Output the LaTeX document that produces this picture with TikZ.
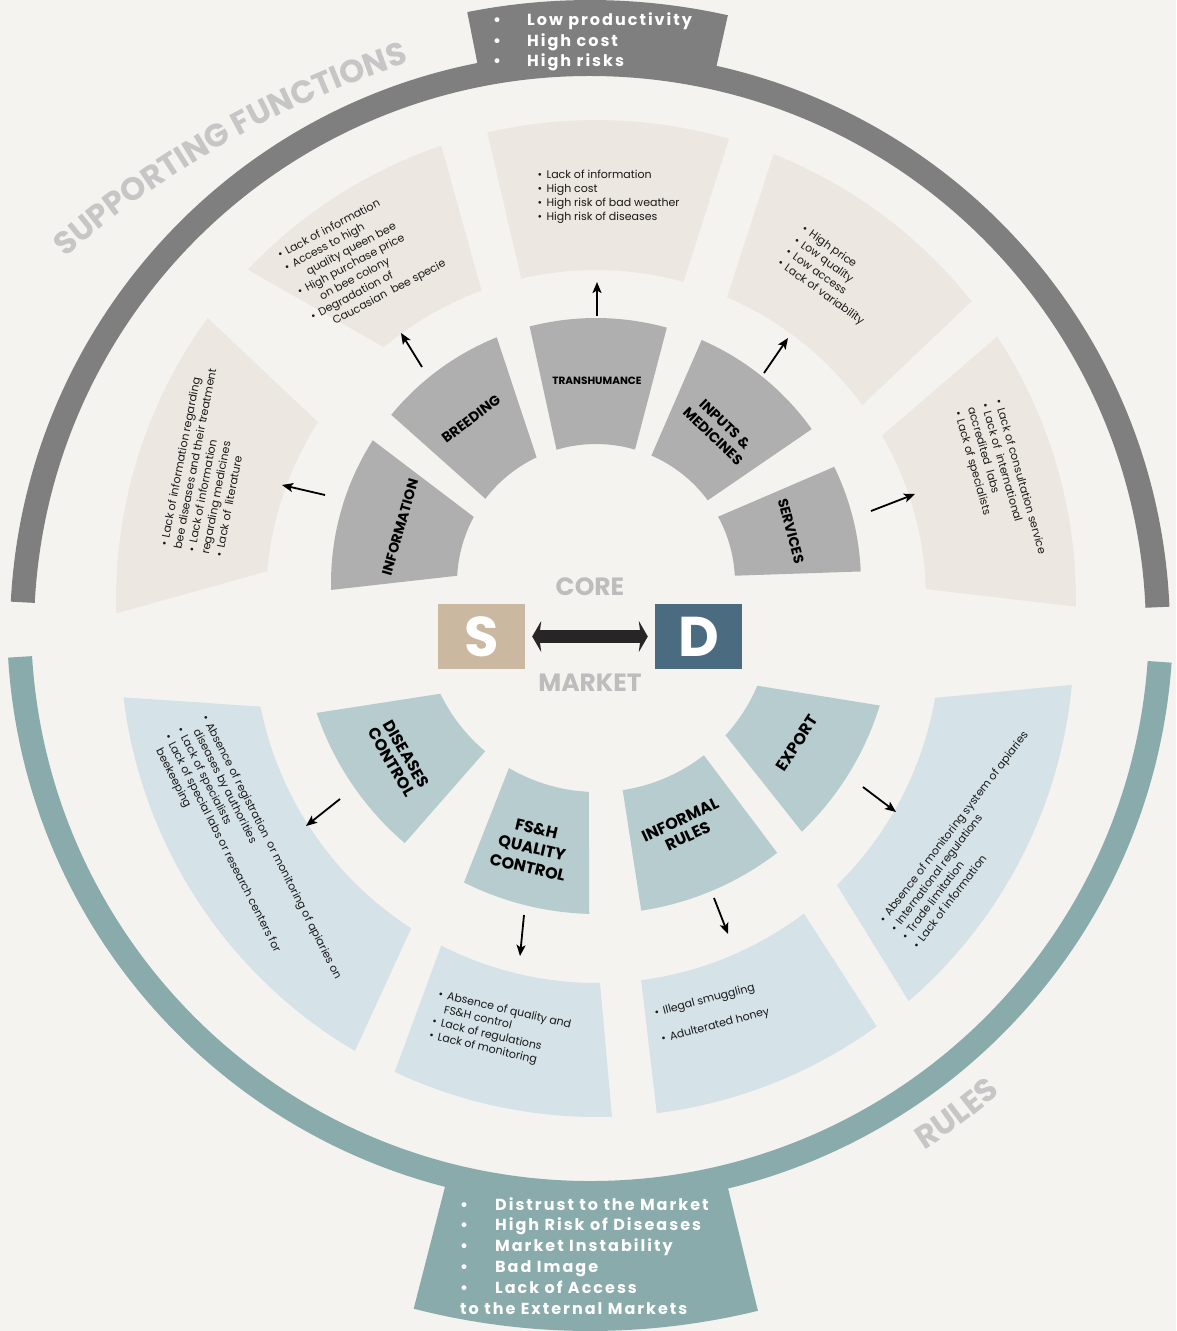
\documentclass[tikz,border=0pt]{standalone}
\usepackage{fontspec}
\setmainfont{Poppins}
\newfontfamily\tabfont[LetterSpace=12.5]{Poppins}
\usetikzlibrary{arrows.meta,decorations.text}
\definecolor{bgc}{HTML}{F4F3EF}
\definecolor{bandgray}{HTML}{7F7F7F}
\definecolor{secgray}{HTML}{AFAFAF}
\definecolor{beige}{HTML}{EDE7E1}
\definecolor{bandteal}{HTML}{8AABAB}
\definecolor{secteal}{HTML}{B6CCCE}
\definecolor{secblue}{HTML}{D5E2E7}
\definecolor{scol}{HTML}{CBB8A0}
\definecolor{dcol}{HTML}{4A6B80}
\definecolor{ltgray}{HTML}{C6C6C6}
\definecolor{coregray}{HTML}{BDBDBD}
\definecolor{arrdark}{HTML}{262626}
\newcommand\mybul{\makebox[0.8em][l]{\textbullet}}
% #1 cx, #2 cy (image), #3 r inner, #4 r outer, #5 #6 outer angles, #7 #8 inner angles, #9 colour
\newcommand\mysect[9]{\fill[#9, shift={(#1,-#2)}] (#5:#4) arc[start angle=#5, end angle=#6, radius=#4] -- (#8:#3) arc[start angle=#8, end angle=#7, radius=#3] -- cycle;}
\tikzset{
 arr/.style={draw=black, line width=1.8pt, -{Stealth[length=11pt,width=9pt,inset=2.5pt]}},
 body/.style={anchor=base west, inner sep=0pt, font=\fontsize{11}{14}\selectfont, text=black!90},
 lab/.style={inner sep=0pt, align=center, font=\bfseries\fontsize{14}{17}\selectfont, text=black},
 blab/.style={inner sep=0pt, align=center, font=\bfseries\fontsize{16}{19}\selectfont, text=black},
 tabtxt/.style={anchor=base west, inner sep=0pt, text=white, font=\tabfont\bfseries\fontsize{16}{20}\selectfont},
 bigtxt/.style={inner sep=0pt, text=coregray, font=\bfseries\fontsize{25}{25}\selectfont},
 sdbox/.style={minimum width=87pt, minimum height=65pt, inner sep=0pt, text=white, font=\bfseries\fontsize{56}{56}\selectfont},
}
\begin{document}
\begin{tikzpicture}[x=1pt,y=1pt]
\useasboundingbox (0,0) rectangle (1176,-1331);
\fill[bgc] (0,0) rectangle (1176,-1331);

% ---- outer bands and tabs
\fill[bandgray, shift={(590,-632)}] (2.5:580) arc[start angle=2.5,end angle=177,radius=580] -- (177:556) arc[start angle=177,end angle=2.5,radius=556] -- cycle;
\fill[bandgray, shift={(590,-632)}] (77.4:632) arc[start angle=77.4,end angle=101.2,radius=632] -- (101.2:560) arc[start angle=101.2,end angle=77.4,radius=560] -- cycle;
\fill[bandteal, shift={(590,-622)}] (183.5:583) arc[start angle=183.5,end angle=356,radius=583] -- (356:559) arc[start angle=356,end angle=183.5,radius=559] -- cycle;
\fill[bandteal, shift={(590,-622)}] (255.6:709) arc[start angle=255.6,end angle=283.7,radius=709] -- (283.7:570) arc[start angle=283.7,end angle=255.6,radius=570] -- cycle;

% ---- curved titles
\path[shift={(712,-999)}, decorate, decoration={text along path, text align=center, text color=ltgray, text={|\bfseries\fontsize{32}{32}\selectfont|SUPPORTING FUNCTIONS}}] (133:984) arc[start angle=133, end angle=106, radius=984];
\path[shift={(590,-622)}, decorate, decoration={text along path, text align=center, text color=ltgray, text={|\bfseries\fontsize{32}{32}\selectfont|RULES}}] (-64:625) arc[start angle=-64, end angle=-42.6, radius=625];

% ---- top inner gray sectors (centre 596,583)
\mysect{596}{583}{139}{265}{2.5}{26}{3}{28.5}{secgray}
\mysect{596}{583}{139}{265}{35.5}{66.5}{36.5}{66.5}{secgray}
\mysect{596}{583}{139}{265}{74.5}{104.5}{73.7}{106.5}{secgray}
\mysect{596}{583}{139}{265}{112}{140.6}{115.3}{142.7}{secgray}
\mysect{596}{583}{139}{265}{147.4}{181.5}{151.6}{177}{secgray}
% ---- top outer beige sectors (centre 596,600)
\mysect{596}{600}{330}{480}{-0.8}{33.3}{1.9}{29.9}{beige}
\mysect{596}{600}{330}{480}{38.5}{68.3}{36.2}{66.6}{beige}
\mysect{596}{600}{330}{480}{73.9}{103.1}{74.6}{103.1}{beige}
\mysect{596}{600}{330}{480}{108.8}{136.5}{110.3}{130}{beige}
\mysect{596}{600}{330}{480}{144}{181.6}{147.4}{175}{beige}
% ---- bottom inner teal sectors (centre 597,618)
\mysect{597}{618}{174}{296}{198.7}{229.5}{205.8}{230}{secteal}
\mysect{597}{618}{174}{296}{243.3}{268.5}{239.6}{267.3}{secteal}
\mysect{597}{618}{174}{296}{278.6}{307.5}{278.5}{307.9}{secteal}
\mysect{597}{618}{174}{296}{313.8}{342.8}{317.6}{337.1}{secteal}
% ---- bottom outer blue sectors (centre 597,640)
\mysect{597}{640}{343}{477}{186.9}{239.5}{191.2}{237.2}{secblue}
\mysect{597}{640}{343}{477}{244.9}{271.8}{243}{270.5}{secblue}
\mysect{597}{640}{343}{477}{277.2}{305.9}{277.4}{307.1}{secblue}
\mysect{597}{640}{343}{477}{310.8}{354.6}{314.4}{350.3}{secblue}

% ---- tab texts
\node[tabtxt] (tt1) at (493,-25.5) {\makebox[34pt][l]{\textbullet}Low productivity};
\node[tabtxt] (tt2) at (493,-46) {\makebox[34pt][l]{\textbullet}High cost};
\node[tabtxt] (tt3) at (493,-66.5) {\makebox[34pt][l]{\textbullet}High risks};
\node[tabtxt] (bt1) at (460,-1210) {\makebox[35pt][l]{\textbullet}Distrust to the Market};
\node[tabtxt] (bt2) at (460,-1230.8) {\makebox[35pt][l]{\textbullet}High Risk of Diseases};
\node[tabtxt] (bt3) at (460,-1251.6) {\makebox[35pt][l]{\textbullet}Market Instability};
\node[tabtxt] (bt4) at (460,-1272.4) {\makebox[35pt][l]{\textbullet}Bad Image};
\node[tabtxt] (bt5) at (460,-1293.2) {\makebox[35pt][l]{\textbullet}Lack of Access};
\node[tabtxt] (bt6) at (460,-1314) {to the External Markets};

% ---- core
\node[bigtxt] (core) at (590,-587) {CORE};
\node[bigtxt] (market) at (590,-683) {MARKET};
\node[sdbox, fill=scol] (S) at (481.5,-636.5) {S};
\node[sdbox, fill=dcol] (D) at (698.5,-636.5) {D};
\draw[draw=arrdark, line width=13pt, {Stealth[length=9pt,width=31pt,inset=2pt]}-{Stealth[length=9pt,width=31pt,inset=2pt]}, shorten <=7pt, shorten >=7pt] (S) -- (D);

% ---- gray labels
\node[lab, rotate=74] (linfo) at (400,-527) {INFORMATION};
\node[lab, rotate=37] (lbreed) at (471,-419) {BREEDING};
\node[lab, font=\bfseries\fontsize{10.5}{12}\selectfont] (ltrans) at (597,-381) {TRANSHUMANCE};
\node[lab, rotate=-44] (linput) at (719,-430) {INPUTS \&\\MEDICINES};
\node[lab, rotate=-75] (lserv) at (791,-531) {SERVICES};
% ---- teal labels
\node[blab, rotate=-60, font=\bfseries\fontsize{16}{17}\selectfont] (ldis) at (399,-758) {DISEASES\\CONTROL};
\node[blab, rotate=-13, font=\bfseries\fontsize{16}{20}\selectfont] (lfsh) at (532,-848) {FS\&H\\QUALITY\\CONTROL};
\node[blab, rotate=25, font=\bfseries\fontsize{16}{18}\selectfont] (linf) at (684,-828) {INFORMAL\\RULES};
\node[blab, rotate=57] (lexp) at (797,-743) {EXPORT};

% ---- text blocks
\begin{scope}[shift={(167.6,-547)}, rotate=79, transform shape]
\node[body] (i1) at (0,0) {\mybul Lack of information regarding};
\node[body] (i2) at (0,-14) {bee diseases and their treatment};
\node[body] (i3) at (0,-28) {\mybul Lack of information};
\node[body] (i4) at (0,-42) {regarding medicines};
\node[body] (i5) at (0,-56) {\mybul Lack of\ \ literature};
\end{scope}
\begin{scope}[shift={(280,-259)}, rotate=28, transform shape]
\node[body] (b1) at (0,0) {\mybul Lack of information};
\node[body] (b2) at (0,-14) {\mybul Access to high};
\node[body] (b3) at (0,-28) {\hspace*{1.6em}quality queen bee};
\node[body] (b4) at (0,-42) {\mybul High purchase price};
\node[body] (b5) at (0,-56) {\hspace*{1.6em}on bee colony};
\node[body] (b6) at (0,-70) {\mybul Degradation of};
\node[body] (b7) at (0,-84) {\hspace*{1.6em}Caucasian\ \ bee specie};
\end{scope}
\begin{scope}[shift={(537.5,-178)}]
\node[body] (r1) at (0,0) {\mybul Lack of information};
\node[body] (r2) at (0,-14) {\mybul High cost};
\node[body] (r3) at (0,-28) {\mybul High risk of bad weather};
\node[body] (r4) at (0,-42) {\mybul High risk of diseases};
\end{scope}
\begin{scope}[shift={(801,-230.5)}, rotate=-35.5, transform shape]
\node[body] (p1) at (0,0) {\mybul High price};
\node[body] (p2) at (0,-14) {\mybul Low quality};
\node[body] (p3) at (0,-28) {\mybul Low access};
\node[body] (p4) at (0,-42) {\mybul Lack of variability};
\end{scope}
\begin{scope}[shift={(994.7,-400.4)}, rotate=-74, transform shape]
\node[body] (s1) at (0,0) {\mybul Lack of consultation service};
\node[body] (s2) at (0,-14) {\mybul Lack of\ \ international};
\node[body] (s3) at (0,-28) {accredited\ \ labs};
\node[body] (s4) at (0,-42) {\mybul Lack of specialists};
\end{scope}
\begin{scope}[shift={(201.6,-717)}, rotate=-63, transform shape]
\node[body] (d1) at (0,0) {\mybul Absence of registration\ \ or monitoring of apiaries on};
\node[body] (d2) at (0,-14) {\hspace*{0.8em}diseases by authorities};
\node[body] (d3) at (0,-28) {\mybul Lack of specialists};
\node[body] (d4) at (0,-42) {\mybul Lack of special labs or research centers for};
\node[body] (d5) at (0,-56) {\hspace*{0.8em}beekeeping};
\end{scope}
\begin{scope}[shift={(437.8,-997.6)}, rotate=-13, transform shape]
\node[body] (f1) at (0,0) {\mybul Absence of quality and};
\node[body] (f2) at (0,-14) {\hspace*{0.8em}FS\&H control};
\node[body] (f3) at (0,-28) {\mybul Lack of regulations};
\node[body] (f4) at (0,-42) {\mybul Lack of monitoring};
\end{scope}
\begin{scope}[shift={(655.3,-1016.3)}, rotate=14.5, transform shape]
\node[body] (n1) at (0,0) {\mybul Illegal smuggling};
\node[body] (n2) at (0,-27) {\mybul Adulterated honey};
\end{scope}
\begin{scope}[shift={(884.5,-924)}, rotate=52.7, transform shape]
\node[body] (e1) at (0,0) {\mybul Absence of monitoring system of apiaries};
\node[body] (e2) at (0,-14) {\mybul International regulations};
\node[body] (e3) at (0,-28) {\mybul Trade limitation};
\node[body] (e4) at (0,-42) {\mybul Lack of information};
\end{scope}

% ---- arrows
\coordinate (a1s) at (325,-495); \coordinate (a1e) at (282,-485);
\coordinate (a2s) at (422,-367); \coordinate (a2e) at (401,-333);
\coordinate (a3s) at (597,-316); \coordinate (a3e) at (597,-282);
\coordinate (a4s) at (764,-373); \coordinate (a4e) at (788,-338);
\coordinate (a5s) at (871,-511); \coordinate (a5e) at (915,-494);
\coordinate (b1s) at (340,-799); \coordinate (b1e) at (306,-826);
\coordinate (b2s) at (524,-915); \coordinate (b2e) at (520,-956);
\coordinate (b3s) at (714,-898); \coordinate (b3e) at (728,-934);
\coordinate (b4s) at (863,-787); \coordinate (b4e) at (896,-812);
\draw[arr] (a1s) -- (a1e);
\draw[arr] (a2s) -- (a2e);
\draw[arr] (a3s) -- (a3e);
\draw[arr] (a4s) -- (a4e);
\draw[arr] (a5s) -- (a5e);
\draw[arr] (b1s) -- (b1e);
\draw[arr] (b2s) -- (b2e);
\draw[arr] (b3s) -- (b3e);
\draw[arr] (b4s) -- (b4e);
\end{tikzpicture}
\end{document}
